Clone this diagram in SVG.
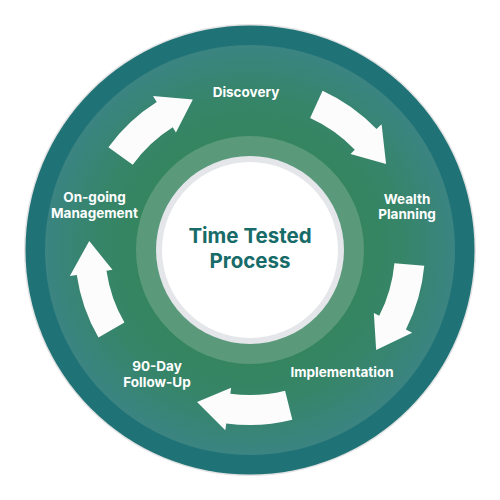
<svg xmlns="http://www.w3.org/2000/svg" width="500" height="500" viewBox="0 0 500 500">
  <defs>
    <radialGradient id="band" cx="250" cy="250" r="205" gradientUnits="userSpaceOnUse">
      <stop offset="0.55" stop-color="#34855f"/>
      <stop offset="0.75" stop-color="#368569"/>
      <stop offset="1" stop-color="#3b8482"/>
    </radialGradient>
    <path id="arw" d="M175,0 A175,175 0 0 1 162.49,64.99 L168.99,67.59 L134.72,88.16 L129.06,51.62 L134.63,53.85 A145,145 0 0 0 145,0 Z"/>
    <style>
      .lbl { font-family: Inter, "Open Sans", "Liberation Sans", sans-serif; font-weight: 700; font-size: 13.5px; fill: #ffffff; text-anchor: middle; }
      .title { font-family: Inter, "Open Sans", "Liberation Sans", sans-serif; font-weight: 700; font-size: 20.5px; fill: #176b68; text-anchor: middle; }
      .arrow { fill: #fcfcfc; }
    </style>
  </defs>

  <rect width="500" height="500" fill="#ffffff"/>

  <g id="rings">
    <circle cx="250" cy="250" r="226" fill="#e2e3e4"/>
    <circle cx="250" cy="250" r="224.5" fill="#1f7275"/>
    <circle cx="250" cy="250" r="205" fill="url(#band)"/>
    <circle cx="250" cy="250" r="114" fill="#5a9a7b"/>
    <circle cx="250" cy="250" r="94" fill="#e4e6ea"/>
    <circle cx="250" cy="250" r="88" fill="#ffffff"/>
  </g>

  <g id="connectors" class="arrow">
    <use href="#arw" transform="translate(250 250) rotate(-144)"/>
    <use href="#arw" transform="translate(250 250) rotate(-65.5)"/>
    <use href="#arw" transform="translate(250 250) rotate(5.2)"/>
    <use href="#arw" transform="translate(250 250) rotate(76)"/>
    <use href="#arw" transform="translate(250 250) rotate(150)"/>
  </g>

  <g id="center">
    <text class="title" x="250" y="243">Time Tested</text>
    <text class="title" x="250" y="268">Process</text>
  </g>

  <g id="discovery">
    <text class="lbl" x="246" y="97">Discovery</text>
  </g>
  <g id="wealth-planning">
    <text class="lbl" x="407" y="204">Wealth</text>
    <text class="lbl" x="407" y="219">Planning</text>
  </g>
  <g id="implementation">
    <text class="lbl" x="342" y="377">Implementation</text>
  </g>
  <g id="follow-up">
    <text class="lbl" x="157" y="371">90-Day</text>
    <text class="lbl" x="157" y="387">Follow-Up</text>
  </g>
  <g id="ongoing-management">
    <text class="lbl" x="94.5" y="202">On-going</text>
    <text class="lbl" x="94.5" y="218">Management</text>
  </g>
</svg>
